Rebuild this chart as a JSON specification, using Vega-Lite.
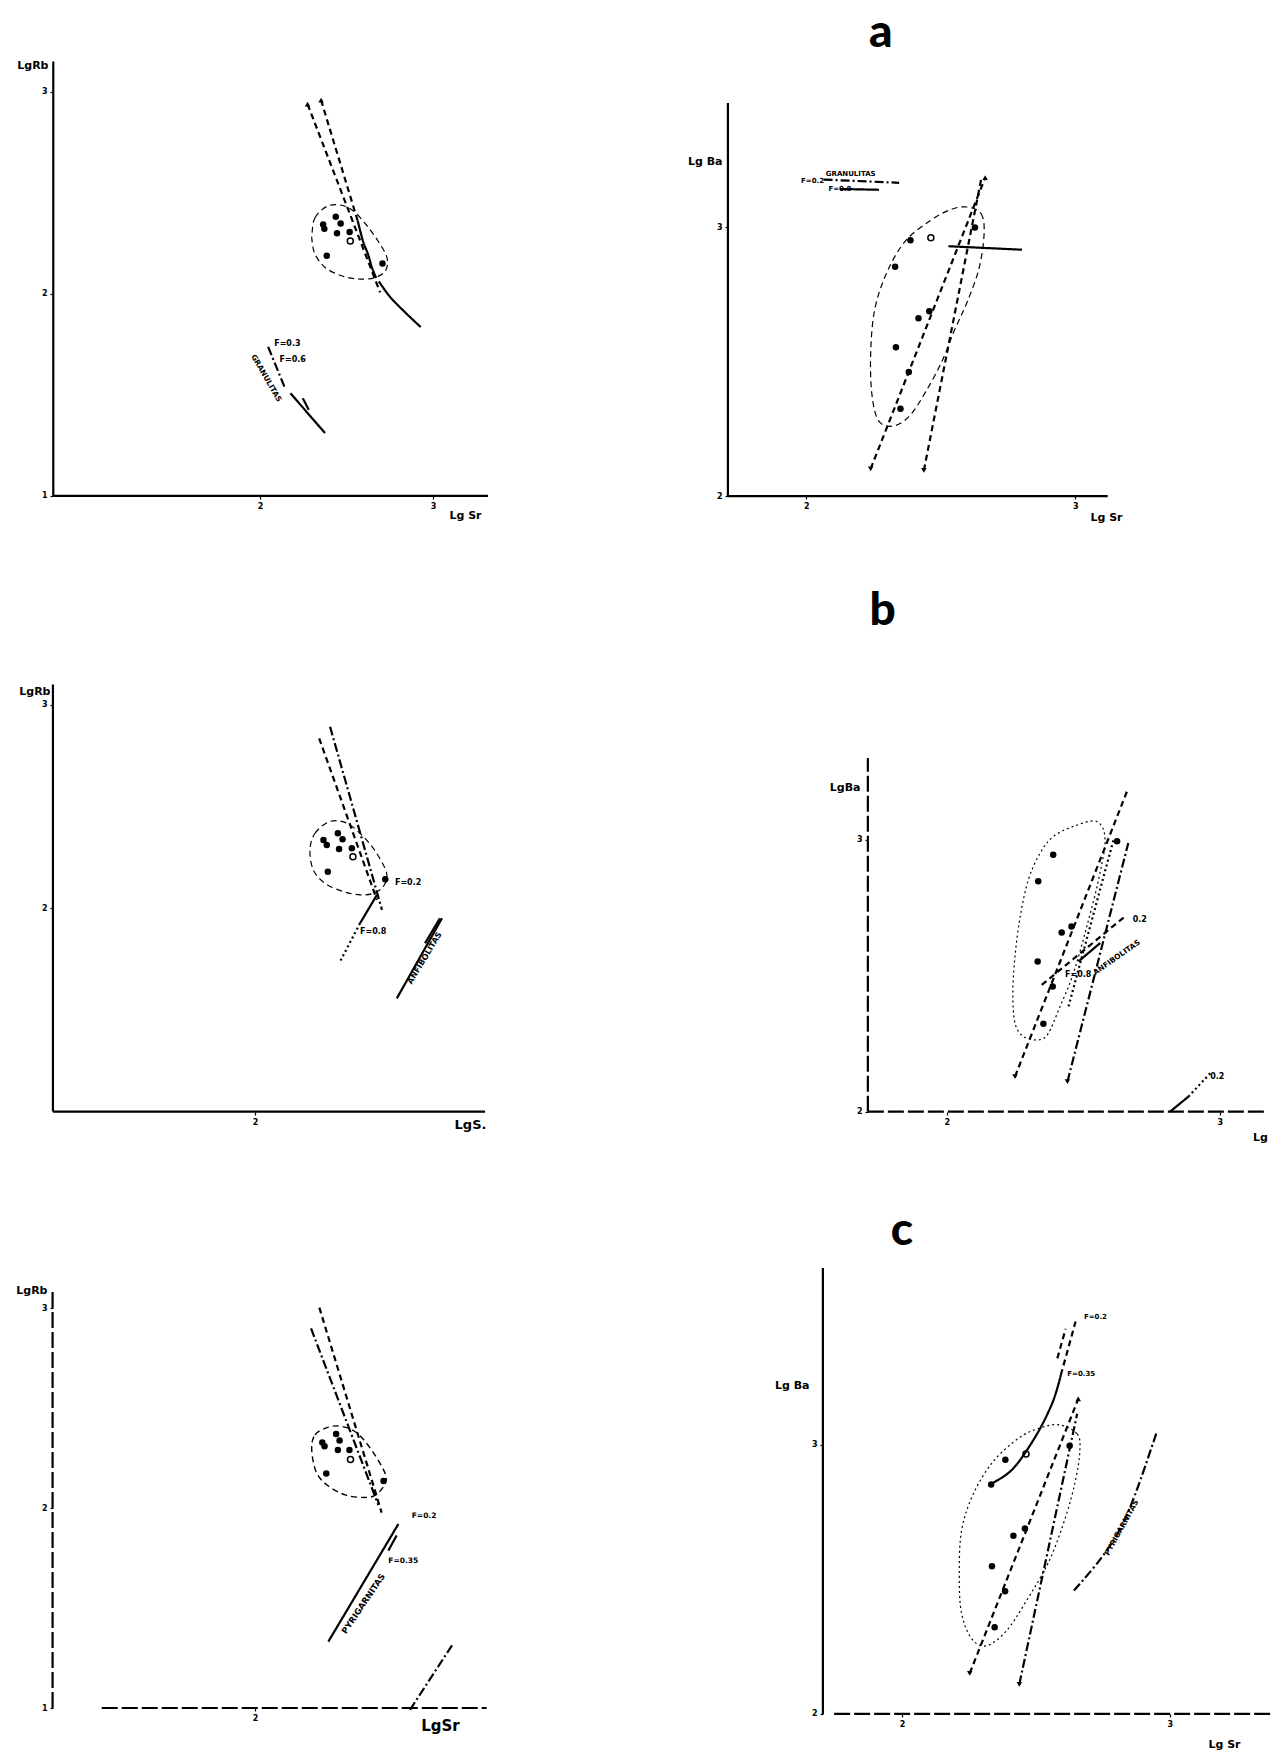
{
  "$schema": "https://vega.github.io/schema/vega-lite/v6.json",
  "padding": 0,
  "background": "white",
  "columns": 2,
  "spacing": 0,
  "bounds": "flush",
  "datasets": {
    "pts": [
      {"p": 1, "x": 2.365, "y": 2.344, "f": "f"}, {"p": 1, "x": 2.372, "y": 2.322, "f": "f"}, {"p": 1, "x": 2.438, "y": 2.382, "f": "f"},
      {"p": 1, "x": 2.466, "y": 2.348, "f": "f"}, {"p": 1, "x": 2.445, "y": 2.300, "f": "f"}, {"p": 1, "x": 2.518, "y": 2.307, "f": "f"},
      {"p": 1, "x": 2.522, "y": 2.262, "f": "o"}, {"p": 1, "x": 2.386, "y": 2.189, "f": "f"}, {"p": 1, "x": 2.708, "y": 2.151, "f": "f"},
      {"p": 2, "x": 2.627, "y": 3.0, "f": "f"}, {"p": 2, "x": 2.463, "y": 2.962, "f": "o"}, {"p": 2, "x": 2.387, "y": 2.952, "f": "f"},
      {"p": 2, "x": 2.33, "y": 2.854, "f": "f"}, {"p": 2, "x": 2.457, "y": 2.688, "f": "f"}, {"p": 2, "x": 2.417, "y": 2.662, "f": "f"},
      {"p": 2, "x": 2.333, "y": 2.554, "f": "f"}, {"p": 2, "x": 2.381, "y": 2.462, "f": "f"}, {"p": 2, "x": 2.35, "y": 2.325, "f": "f"},
      {"p": 3, "x": 2.396, "y": 2.336, "f": "f"}, {"p": 3, "x": 2.415, "y": 2.311, "f": "f"}, {"p": 3, "x": 2.479, "y": 2.369, "f": "f"},
      {"p": 3, "x": 2.506, "y": 2.339, "f": "f"}, {"p": 3, "x": 2.486, "y": 2.292, "f": "f"}, {"p": 3, "x": 2.56, "y": 2.295, "f": "f"},
      {"p": 3, "x": 2.566, "y": 2.254, "f": "o"}, {"p": 3, "x": 2.421, "y": 2.18, "f": "f"}, {"p": 3, "x": 2.753, "y": 2.143, "f": "f"},
      {"p": 4, "x": 2.39, "y": 2.945, "f": "f"}, {"p": 4, "x": 2.335, "y": 2.847, "f": "f"}, {"p": 4, "x": 2.457, "y": 2.681, "f": "f"},
      {"p": 4, "x": 2.421, "y": 2.659, "f": "f"}, {"p": 4, "x": 2.333, "y": 2.552, "f": "f"}, {"p": 4, "x": 2.388, "y": 2.46, "f": "f"},
      {"p": 4, "x": 2.354, "y": 2.323, "f": "f"}, {"p": 4, "x": 2.624, "y": 2.994, "f": "f"},
      {"p": 5, "x": 2.389, "y": 2.328, "f": "f"}, {"p": 5, "x": 2.402, "y": 2.309, "f": "f"}, {"p": 5, "x": 2.469, "y": 2.37, "f": "f"},
      {"p": 5, "x": 2.489, "y": 2.338, "f": "f"}, {"p": 5, "x": 2.479, "y": 2.29, "f": "f"}, {"p": 5, "x": 2.546, "y": 2.29, "f": "f"},
      {"p": 5, "x": 2.552, "y": 2.243, "f": "o"}, {"p": 5, "x": 2.412, "y": 2.173, "f": "f"}, {"p": 5, "x": 2.743, "y": 2.135, "f": "f"},
      {"p": 6, "x": 2.626, "y": 2.997, "f": "f"}, {"p": 6, "x": 2.463, "y": 2.966, "f": "o"}, {"p": 6, "x": 2.386, "y": 2.945, "f": "f"},
      {"p": 6, "x": 2.333, "y": 2.853, "f": "f"}, {"p": 6, "x": 2.459, "y": 2.689, "f": "f"}, {"p": 6, "x": 2.416, "y": 2.662, "f": "f"},
      {"p": 6, "x": 2.336, "y": 2.549, "f": "f"}, {"p": 6, "x": 2.385, "y": 2.456, "f": "f"}, {"p": 6, "x": 2.346, "y": 2.322, "f": "f"}
    ],
    "lns": [
      {"p": 1, "id": "1y", "o": 1, "x": 0.805, "y": 1, "s": "axis"}, {"p": 1, "id": "1y", "o": 2, "x": 0.805, "y": 3.15, "s": "axis"},
      {"p": 1, "id": "1x", "o": 1, "x": 0.805, "y": 1, "s": "axis"}, {"p": 1, "id": "1x", "o": 2, "x": 3.318, "y": 1, "s": "axis"},
      {"p": 1, "id": "1a", "o": 1, "x": 2.275, "y": 2.939, "s": "dashed"}, {"p": 1, "id": "1a", "o": 2, "x": 2.694, "y": 2.008, "s": "dashed"},
      {"p": 1, "id": "1b", "o": 1, "x": 2.353, "y": 2.959, "s": "dashed"}, {"p": 1, "id": "1b", "o": 2, "x": 2.565, "y": 2.361, "s": "dashed"},
      {"p": 1, "id": "1c", "o": 1, "x": 2.565, "y": 2.361, "s": "solid"}, {"p": 1, "id": "1c", "o": 2, "x": 2.595, "y": 2.262, "s": "solid"},
      {"p": 1, "id": "1c", "o": 3, "x": 2.624, "y": 2.197, "s": "solid"}, {"p": 1, "id": "1c", "o": 4, "x": 2.647, "y": 2.131, "s": "solid"},
      {"p": 1, "id": "1c", "o": 5, "x": 2.671, "y": 2.079, "s": "solid"},
      {"p": 1, "id": "1d", "o": 1, "x": 2.687, "y": 2.062, "s": "solid"}, {"p": 1, "id": "1d", "o": 2, "x": 2.753, "y": 1.984, "s": "solid"},
      {"p": 1, "id": "1d", "o": 3, "x": 2.847, "y": 1.902, "s": "solid"}, {"p": 1, "id": "1d", "o": 4, "x": 2.929, "y": 1.836, "s": "solid"},
      {"p": 1, "id": "1e", "o": 1, "x": 2.047, "y": 1.738, "s": "dashdot"}, {"p": 1, "id": "1e", "o": 2, "x": 2.141, "y": 1.541, "s": "dashdot"},
      {"p": 1, "id": "1f", "o": 1, "x": 2.176, "y": 1.508, "s": "solid"}, {"p": 1, "id": "1f", "o": 2, "x": 2.376, "y": 1.311, "s": "solid"},
      {"p": 1, "id": "1g", "o": 1, "x": 2.247, "y": 1.484, "s": "solid"}, {"p": 1, "id": "1g", "o": 2, "x": 2.282, "y": 1.426, "s": "solid"},
      {"p": 2, "id": "2y", "o": 1, "x": 1.708, "y": 2, "s": "axis"}, {"p": 2, "id": "2y", "o": 2, "x": 1.708, "y": 3.463, "s": "axis"},
      {"p": 2, "id": "2x", "o": 1, "x": 1.708, "y": 2, "s": "axis"}, {"p": 2, "id": "2x", "o": 2, "x": 3.121, "y": 2, "s": "axis"},
      {"p": 2, "id": "2a", "o": 1, "x": 2.239, "y": 2.102, "s": "dashed"}, {"p": 2, "id": "2a", "o": 2, "x": 2.665, "y": 3.185, "s": "dashed"},
      {"p": 2, "id": "2b", "o": 1, "x": 2.437, "y": 2.096, "s": "dashed"}, {"p": 2, "id": "2b", "o": 2, "x": 2.65, "y": 3.178, "s": "dashed"},
      {"p": 2, "id": "2c", "o": 1, "x": 2.528, "y": 2.93, "s": "bold"}, {"p": 2, "id": "2c", "o": 2, "x": 2.802, "y": 2.917, "s": "bold"},
      {"p": 2, "id": "2d", "o": 1, "x": 2.064, "y": 3.178, "s": "dashdot"}, {"p": 2, "id": "2d", "o": 2, "x": 2.345, "y": 3.166, "s": "dashdot"},
      {"p": 2, "id": "2e", "o": 1, "x": 2.125, "y": 3.143, "s": "solid"}, {"p": 2, "id": "2e", "o": 2, "x": 2.27, "y": 3.14, "s": "solid"},
      {"p": 3, "id": "3y", "o": 1, "x": 0.832, "y": 1, "s": "axis"}, {"p": 3, "id": "3y", "o": 2, "x": 0.832, "y": 3.1, "s": "axis"},
      {"p": 3, "id": "3x", "o": 1, "x": 0.832, "y": 1, "s": "axis"}, {"p": 3, "id": "3x", "o": 2, "x": 3.33, "y": 1, "s": "axis"},
      {"p": 3, "id": "3a", "o": 1, "x": 2.371, "y": 2.836, "s": "dashed"}, {"p": 3, "id": "3a", "o": 2, "x": 2.705, "y": 2.041, "s": "dashed"},
      {"p": 3, "id": "3b", "o": 1, "x": 2.434, "y": 2.893, "s": "dashdot"}, {"p": 3, "id": "3b", "o": 2, "x": 2.734, "y": 1.992, "s": "dashdot"},
      {"p": 3, "id": "3c", "o": 1, "x": 2.705, "y": 2.066, "s": "solid"}, {"p": 3, "id": "3c", "o": 2, "x": 2.607, "y": 1.926, "s": "solid"},
      {"p": 3, "id": "3d", "o": 1, "x": 2.607, "y": 1.926, "s": "dotted"}, {"p": 3, "id": "3d", "o": 2, "x": 2.491, "y": 1.737, "s": "dotted"},
      {"p": 3, "id": "3e", "o": 1, "x": 2.82, "y": 1.557, "s": "solid"}, {"p": 3, "id": "3e", "o": 2, "x": 3.081, "y": 1.951, "s": "solid"},
      {"p": 3, "id": "3f", "o": 1, "x": 2.983, "y": 1.828, "s": "solid"}, {"p": 3, "id": "3f", "o": 2, "x": 3.069, "y": 1.951, "s": "solid"},
      {"p": 4, "id": "4y", "o": 1, "x": 1.711, "y": 2, "s": "axisd"}, {"p": 4, "id": "4y", "o": 2, "x": 1.711, "y": 3.3, "s": "axisd"},
      {"p": 4, "id": "4x", "o": 1, "x": 1.711, "y": 2, "s": "axisd"}, {"p": 4, "id": "4x", "o": 2, "x": 3.166, "y": 2, "s": "axisd"},
      {"p": 4, "id": "4a", "o": 1, "x": 2.25, "y": 2.129, "s": "dashed"}, {"p": 4, "id": "4a", "o": 2, "x": 2.665, "y": 3.19, "s": "dashed"},
      {"p": 4, "id": "4b", "o": 1, "x": 2.442, "y": 2.11, "s": "dashdot"}, {"p": 4, "id": "4b", "o": 2, "x": 2.665, "y": 2.988, "s": "dashdot"},
      {"p": 4, "id": "4c", "o": 1, "x": 2.446, "y": 2.387, "s": "dotted"}, {"p": 4, "id": "4c", "o": 2, "x": 2.611, "y": 3.0, "s": "dotted"},
      {"p": 4, "id": "4d", "o": 1, "x": 2.348, "y": 2.466, "s": "dashed"}, {"p": 4, "id": "4d", "o": 2, "x": 2.653, "y": 2.718, "s": "dashed"},
      {"p": 4, "id": "4e", "o": 1, "x": 2.482, "y": 2.552, "s": "solid"}, {"p": 4, "id": "4e", "o": 2, "x": 2.562, "y": 2.62, "s": "solid"},
      {"p": 4, "id": "4f", "o": 1, "x": 2.818, "y": 2.0, "s": "solid"}, {"p": 4, "id": "4f", "o": 2, "x": 2.885, "y": 2.055, "s": "solid"},
      {"p": 4, "id": "4g", "o": 1, "x": 2.885, "y": 2.055, "s": "dotted"}, {"p": 4, "id": "4g", "o": 2, "x": 2.965, "y": 2.141, "s": "dotted"},
      {"p": 5, "id": "5y", "o": 1, "x": 0.83, "y": 1, "s": "axisd"}, {"p": 5, "id": "5y", "o": 2, "x": 0.83, "y": 3.087, "s": "axisd"},
      {"p": 5, "id": "5x", "o": 1, "x": 1.114, "y": 1, "s": "axisd"}, {"p": 5, "id": "5x", "o": 2, "x": 3.339, "y": 1, "s": "axisd"},
      {"p": 5, "id": "5a", "o": 1, "x": 2.324, "y": 2.898, "s": "dashdot"}, {"p": 5, "id": "5a", "o": 2, "x": 2.713, "y": 2.015, "s": "dashdot"},
      {"p": 5, "id": "5b", "o": 1, "x": 2.372, "y": 3.002, "s": "dashed"}, {"p": 5, "id": "5b", "o": 2, "x": 2.732, "y": 1.977, "s": "dashed"},
      {"p": 5, "id": "5c", "o": 1, "x": 2.424, "y": 1.332, "s": "solid"}, {"p": 5, "id": "5c", "o": 2, "x": 2.829, "y": 1.92, "s": "solid"},
      {"p": 5, "id": "5d", "o": 1, "x": 2.771, "y": 1.787, "s": "solid"}, {"p": 5, "id": "5d", "o": 2, "x": 2.819, "y": 1.863, "s": "solid"},
      {"p": 5, "id": "5e", "o": 1, "x": 2.896, "y": 0.991, "s": "dashdot"}, {"p": 5, "id": "5e", "o": 2, "x": 3.146, "y": 1.323, "s": "dashdot"},
      {"p": 6, "id": "6y", "o": 1, "x": 1.705, "y": 2, "s": "axis"}, {"p": 6, "id": "6y", "o": 2, "x": 1.705, "y": 3.658, "s": "axis"},
      {"p": 6, "id": "6x", "o": 1, "x": 1.747, "y": 2, "s": "axisd"}, {"p": 6, "id": "6x", "o": 2, "x": 3.377, "y": 2, "s": "axisd"},
      {"p": 6, "id": "6a", "o": 1, "x": 2.253, "y": 2.151, "s": "dashed"}, {"p": 6, "id": "6a", "o": 2, "x": 2.658, "y": 3.171, "s": "dashed"},
      {"p": 6, "id": "6b", "o": 1, "x": 2.438, "y": 2.11, "s": "dashdot"}, {"p": 6, "id": "6b", "o": 2, "x": 2.654, "y": 3.116, "s": "dashdot"},
      {"p": 6, "id": "6c", "o": 1, "x": 2.333, "y": 2.856, "s": "solid"}, {"p": 6, "id": "6c", "o": 2, "x": 2.414, "y": 2.911, "s": "solid"},
      {"p": 6, "id": "6c", "o": 3, "x": 2.5, "y": 3.034, "s": "solid"}, {"p": 6, "id": "6c", "o": 4, "x": 2.562, "y": 3.158, "s": "solid"},
      {"p": 6, "id": "6c", "o": 5, "x": 2.593, "y": 3.26, "s": "solid"},
      {"p": 6, "id": "6d", "o": 1, "x": 2.593, "y": 3.26, "s": "dashed"}, {"p": 6, "id": "6d", "o": 2, "x": 2.648, "y": 3.459, "s": "dashed"},
      {"p": 6, "id": "6e", "o": 1, "x": 2.58, "y": 3.322, "s": "dashed"}, {"p": 6, "id": "6e", "o": 2, "x": 2.611, "y": 3.432, "s": "dashed"},
      {"p": 6, "id": "6f", "o": 1, "x": 2.642, "y": 2.459, "s": "dashdot"}, {"p": 6, "id": "6f", "o": 2, "x": 2.735, "y": 2.568, "s": "dashdot"},
      {"p": 6, "id": "6f", "o": 3, "x": 2.809, "y": 2.678, "s": "dashdot"}, {"p": 6, "id": "6f", "o": 4, "x": 2.87, "y": 2.815, "s": "dashdot"},
      {"p": 6, "id": "6f", "o": 5, "x": 2.951, "y": 3.048, "s": "dashdot"}
    ],
    "ell": [
      {"p": 1, "o": 1, "x": 2.301, "y": 2.303, "s": "dashed"}, {"p": 1, "o": 2, "x": 2.318, "y": 2.377, "s": "dashed"},
      {"p": 1, "o": 3, "x": 2.388, "y": 2.434, "s": "dashed"}, {"p": 1, "o": 4, "x": 2.471, "y": 2.439, "s": "dashed"},
      {"p": 1, "o": 5, "x": 2.541, "y": 2.41, "s": "dashed"}, {"p": 1, "o": 6, "x": 2.612, "y": 2.344, "s": "dashed"},
      {"p": 1, "o": 7, "x": 2.682, "y": 2.262, "s": "dashed"}, {"p": 1, "o": 8, "x": 2.734, "y": 2.18, "s": "dashed"},
      {"p": 1, "o": 9, "x": 2.725, "y": 2.115, "s": "dashed"}, {"p": 1, "o": 10, "x": 2.659, "y": 2.079, "s": "dashed"},
      {"p": 1, "o": 11, "x": 2.565, "y": 2.074, "s": "dashed"}, {"p": 1, "o": 12, "x": 2.471, "y": 2.09, "s": "dashed"},
      {"p": 1, "o": 13, "x": 2.376, "y": 2.131, "s": "dashed"}, {"p": 1, "o": 14, "x": 2.318, "y": 2.197, "s": "dashed"},
      {"p": 1, "o": 15, "x": 2.301, "y": 2.262, "s": "dashed"},
      {"p": 2, "o": 1, "x": 2.597, "y": 3.076, "s": "dashed"}, {"p": 2, "o": 2, "x": 2.65, "y": 3.051, "s": "dashed"},
      {"p": 2, "o": 3, "x": 2.661, "y": 2.975, "s": "dashed"}, {"p": 2, "o": 4, "x": 2.642, "y": 2.847, "s": "dashed"},
      {"p": 2, "o": 5, "x": 2.597, "y": 2.72, "s": "dashed"}, {"p": 2, "o": 6, "x": 2.551, "y": 2.618, "s": "dashed"},
      {"p": 2, "o": 7, "x": 2.505, "y": 2.503, "s": "dashed"}, {"p": 2, "o": 8, "x": 2.444, "y": 2.389, "s": "dashed"},
      {"p": 2, "o": 9, "x": 2.384, "y": 2.299, "s": "dashed"}, {"p": 2, "o": 10, "x": 2.323, "y": 2.261, "s": "dashed"},
      {"p": 2, "o": 11, "x": 2.269, "y": 2.28, "s": "dashed"}, {"p": 2, "o": 12, "x": 2.244, "y": 2.376, "s": "dashed"},
      {"p": 2, "o": 13, "x": 2.239, "y": 2.529, "s": "dashed"}, {"p": 2, "o": 14, "x": 2.254, "y": 2.694, "s": "dashed"},
      {"p": 2, "o": 15, "x": 2.3, "y": 2.834, "s": "dashed"}, {"p": 2, "o": 16, "x": 2.368, "y": 2.949, "s": "dashed"},
      {"p": 2, "o": 17, "x": 2.46, "y": 3.025, "s": "dashed"}, {"p": 2, "o": 18, "x": 2.536, "y": 3.066, "s": "dashed"},
      {"p": 3, "o": 1, "x": 2.318, "y": 2.287, "s": "dashed"}, {"p": 3, "o": 2, "x": 2.347, "y": 2.369, "s": "dashed"},
      {"p": 3, "o": 3, "x": 2.434, "y": 2.427, "s": "dashed"}, {"p": 3, "o": 4, "x": 2.53, "y": 2.419, "s": "dashed"},
      {"p": 3, "o": 5, "x": 2.626, "y": 2.353, "s": "dashed"}, {"p": 3, "o": 6, "x": 2.703, "y": 2.271, "s": "dashed"},
      {"p": 3, "o": 7, "x": 2.761, "y": 2.172, "s": "dashed"}, {"p": 3, "o": 8, "x": 2.742, "y": 2.107, "s": "dashed"},
      {"p": 3, "o": 9, "x": 2.684, "y": 2.074, "s": "dashed"}, {"p": 3, "o": 10, "x": 2.607, "y": 2.066, "s": "dashed"},
      {"p": 3, "o": 11, "x": 2.511, "y": 2.082, "s": "dashed"}, {"p": 3, "o": 12, "x": 2.405, "y": 2.123, "s": "dashed"},
      {"p": 3, "o": 13, "x": 2.337, "y": 2.189, "s": "dashed"},
      {"p": 4, "o": 1, "x": 2.549, "y": 3.067, "s": "dotted"}, {"p": 4, "o": 2, "x": 2.464, "y": 3.049, "s": "dotted"},
      {"p": 4, "o": 3, "x": 2.391, "y": 3.012, "s": "dotted"}, {"p": 4, "o": 4, "x": 2.342, "y": 2.951, "s": "dotted"},
      {"p": 4, "o": 5, "x": 2.299, "y": 2.853, "s": "dotted"}, {"p": 4, "o": 6, "x": 2.269, "y": 2.718, "s": "dotted"},
      {"p": 4, "o": 7, "x": 2.25, "y": 2.571, "s": "dotted"}, {"p": 4, "o": 8, "x": 2.242, "y": 2.436, "s": "dotted"},
      {"p": 4, "o": 9, "x": 2.25, "y": 2.325, "s": "dotted"}, {"p": 4, "o": 10, "x": 2.281, "y": 2.276, "s": "dotted"},
      {"p": 4, "o": 11, "x": 2.336, "y": 2.264, "s": "dotted"}, {"p": 4, "o": 12, "x": 2.372, "y": 2.288, "s": "dotted"},
      {"p": 4, "o": 13, "x": 2.415, "y": 2.387, "s": "dotted"}, {"p": 4, "o": 14, "x": 2.464, "y": 2.509, "s": "dotted"},
      {"p": 4, "o": 15, "x": 2.513, "y": 2.681, "s": "dotted"}, {"p": 4, "o": 16, "x": 2.556, "y": 2.853, "s": "dotted"},
      {"p": 4, "o": 17, "x": 2.58, "y": 3.0, "s": "dotted"},
      {"p": 5, "o": 1, "x": 2.328, "y": 2.29, "s": "dashed"}, {"p": 5, "o": 2, "x": 2.347, "y": 2.366, "s": "dashed"},
      {"p": 5, "o": 3, "x": 2.424, "y": 2.404, "s": "dashed"}, {"p": 5, "o": 4, "x": 2.501, "y": 2.408, "s": "dashed"},
      {"p": 5, "o": 5, "x": 2.588, "y": 2.376, "s": "dashed"}, {"p": 5, "o": 6, "x": 2.674, "y": 2.29, "s": "dashed"},
      {"p": 5, "o": 7, "x": 2.751, "y": 2.176, "s": "dashed"}, {"p": 5, "o": 8, "x": 2.751, "y": 2.12, "s": "dashed"},
      {"p": 5, "o": 9, "x": 2.694, "y": 2.063, "s": "dashed"}, {"p": 5, "o": 10, "x": 2.617, "y": 2.053, "s": "dashed"},
      {"p": 5, "o": 11, "x": 2.52, "y": 2.066, "s": "dashed"}, {"p": 5, "o": 12, "x": 2.424, "y": 2.11, "s": "dashed"},
      {"p": 5, "o": 13, "x": 2.356, "y": 2.176, "s": "dashed"},
      {"p": 6, "o": 1, "x": 2.586, "y": 3.075, "s": "dotted"}, {"p": 6, "o": 2, "x": 2.654, "y": 3.041, "s": "dotted"},
      {"p": 6, "o": 3, "x": 2.664, "y": 2.979, "s": "dotted"}, {"p": 6, "o": 4, "x": 2.648, "y": 2.87, "s": "dotted"},
      {"p": 6, "o": 5, "x": 2.611, "y": 2.733, "s": "dotted"}, {"p": 6, "o": 6, "x": 2.549, "y": 2.568, "s": "dotted"},
      {"p": 6, "o": 7, "x": 2.463, "y": 2.418, "s": "dotted"}, {"p": 6, "o": 8, "x": 2.389, "y": 2.308, "s": "dotted"},
      {"p": 6, "o": 9, "x": 2.315, "y": 2.253, "s": "dotted"}, {"p": 6, "o": 10, "x": 2.259, "y": 2.281, "s": "dotted"},
      {"p": 6, "o": 11, "x": 2.222, "y": 2.377, "s": "dotted"}, {"p": 6, "o": 12, "x": 2.214, "y": 2.514, "s": "dotted"},
      {"p": 6, "o": 13, "x": 2.222, "y": 2.678, "s": "dotted"}, {"p": 6, "o": 14, "x": 2.265, "y": 2.815, "s": "dotted"},
      {"p": 6, "o": 15, "x": 2.34, "y": 2.938, "s": "dotted"}, {"p": 6, "o": 16, "x": 2.438, "y": 3.027, "s": "dotted"},
      {"p": 6, "o": 17, "x": 2.512, "y": 3.062, "s": "dotted"}
    ],
    "arw": [
      {"p": 1, "x": 2.275, "y": 2.939, "d": "up"}, {"p": 1, "x": 2.353, "y": 2.959, "d": "up"},
      {"p": 2, "x": 2.239, "y": 2.102, "d": "down"}, {"p": 2, "x": 2.437, "y": 2.096, "d": "down"}, {"p": 2, "x": 2.665, "y": 3.185, "d": "up"},
      {"p": 4, "x": 2.25, "y": 2.129, "d": "down"}, {"p": 4, "x": 2.442, "y": 2.11, "d": "down"},
      {"p": 6, "x": 2.253, "y": 2.151, "d": "down"}, {"p": 6, "x": 2.438, "y": 2.11, "d": "down"}, {"p": 6, "x": 2.658, "y": 3.171, "d": "up"}
    ],
    "txt": [
      {"p": 1, "t": "F=0.3", "x": 2.082, "y": 1.754, "k": "lab"}, {"p": 1, "t": "F=0.6", "x": 2.113, "y": 1.672, "k": "lab"},
      {"p": 1, "t": "GRANULITAS", "x": 2.035, "y": 1.582, "k": "rot"},
      {"p": 2, "t": "F=0.2", "x": 1.98, "y": 3.172, "k": "lab"}, {"p": 2, "t": "GRANULITAS", "x": 2.072, "y": 3.2, "k": "lab"},
      {"p": 2, "t": "F=0.8", "x": 2.082, "y": 3.143, "k": "lab"}, {"p": 2, "t": "a", "x": 2.277, "y": 3.672, "k": "big"},
      {"p": 3, "t": "F=0.2", "x": 2.809, "y": 2.123, "k": "lab"}, {"p": 3, "t": "F=0.8", "x": 2.607, "y": 1.885, "k": "lab"},
      {"p": 3, "t": "ANFIBOLITAS", "x": 2.983, "y": 1.754, "k": "rot"},
      {"p": 4, "t": "F=0.8", "x": 2.433, "y": 2.503, "k": "lab"}, {"p": 4, "t": "0.2", "x": 2.681, "y": 2.706, "k": "lab"},
      {"p": 4, "t": "ANFIBOLITAS", "x": 2.623, "y": 2.566, "k": "rot"}, {"p": 4, "t": "0.2", "x": 2.965, "y": 2.126, "k": "lab"},
      {"p": 4, "t": "b", "x": 1.765, "y": 3.79, "k": "big"},
      {"p": 5, "t": "F=0.2", "x": 2.906, "y": 1.958, "k": "lab"}, {"p": 5, "t": "F=0.35", "x": 2.771, "y": 1.736, "k": "lab"},
      {"p": 5, "t": "PYRIGARNITAS", "x": 2.626, "y": 1.522, "k": "rot"},
      {"p": 6, "t": "F=0.2", "x": 2.679, "y": 3.475, "k": "lab"}, {"p": 6, "t": "F=0.35", "x": 2.617, "y": 3.263, "k": "lab"},
      {"p": 6, "t": "PYRIGARNITAS", "x": 2.821, "y": 2.692, "k": "rot"}, {"p": 6, "t": "c", "x": 2.0, "y": 3.744, "k": "big"}
    ]
  },
  "concat": [
    {
      "width": 638, "height": 586,
      "encoding": {
        "x": {"field": "x", "type": "quantitative", "scale": {"domain": [0.497, 4.185], "nice": false, "zero": false},
              "axis": {"values": [2, 3], "offset": -90, "title": "Lg Sr", "titleX": 465, "titleY": 19, "titleAlign": "center", "titleBaseline": "middle"}},
        "y": {"field": "y", "type": "quantitative", "scale": {"domain": [0.554, 3.455], "nice": false, "zero": false},
              "axis": {"values": [1, 2, 3], "offset": -53, "title": "LgRb", "titleX": -5, "titleY": 68, "titleAlign": "right", "titleBaseline": "alphabetic"}}
      },
      "layer": [
        {"data": {"name": "lns"}, "transform": [{"filter": "datum.p == 1"}], "mark": {"type": "line", "interpolate": "cardinal", "color": "black"},
         "encoding": {"detail": {"field": "id", "type": "nominal"}, "order": {"field": "o", "type": "quantitative"},
           "strokeDash": {"field": "s", "type": "nominal", "legend": null, "scale": {"domain": ["axis", "axisd", "solid", "bold", "dashed", "dashdot", "dotted"], "range": [[1, 0], [16, 4], [1, 0], [1, 0], [6, 4], [9, 3, 2, 3], [2, 3]]}},
           "strokeWidth": {"field": "s", "type": "ordinal", "legend": null, "scale": {"domain": ["axis", "axisd", "solid", "bold", "dashed", "dashdot", "dotted"], "range": [2.2, 2.2, 1.3, 2.6, 1.3, 1.2, 1.2]}}}},
        {"data": {"name": "ell"}, "transform": [{"filter": "datum.p == 1"}], "mark": {"type": "line", "interpolate": "cardinal-closed", "color": "black", "strokeWidth": 1.2},
         "encoding": {"order": {"field": "o", "type": "quantitative"},
           "strokeDash": {"field": "s", "type": "nominal", "legend": null, "scale": {"domain": ["dashed", "dotted"], "range": [[5, 4], [3, 3]]}}}},
        {"data": {"name": "pts"}, "transform": [{"filter": "datum.p == 1 && datum.f == 'f'"}], "mark": {"type": "point", "shape": "circle", "filled": true, "size": 42, "color": "black", "opacity": 1}},
        {"data": {"name": "pts"}, "transform": [{"filter": "datum.p == 1 && datum.f == 'o'"}], "mark": {"type": "point", "shape": "circle", "filled": false, "size": 36, "strokeWidth": 1.5, "color": "black", "opacity": 1}},
        {"data": {"name": "arw"}, "transform": [{"filter": "datum.p == 1"}], "mark": {"type": "point", "filled": true, "size": 30, "color": "black", "opacity": 1},
         "encoding": {"shape": {"field": "d", "type": "nominal", "legend": null, "scale": {"domain": ["up", "down"], "range": ["triangle-up", "triangle-down"]}}}},
        {"data": {"name": "txt"}, "transform": [{"filter": "datum.p == 1 && datum.k == 'lab'"}], "mark": {"type": "text", "align": "left", "baseline": "middle", "fontSize": 8, "fontWeight": "bold", "color": "black"},
         "encoding": {"text": {"field": "t", "type": "nominal"}}},
        {"data": {"name": "txt"}, "transform": [{"filter": "datum.p == 1 && datum.k == 'rot'"}], "mark": {"type": "text", "align": "center", "baseline": "middle", "angle": 60, "fontSize": 7.5, "fontWeight": "bold", "color": "black"},
         "encoding": {"text": {"field": "t", "type": "nominal"}}}
      ]
    },
    {
      "width": 638, "height": 586,
      "encoding": {
        "x": {"field": "x", "type": "quantitative", "scale": {"domain": [1.3735, 3.747], "nice": false, "zero": false},
              "axis": {"values": [2, 3], "offset": -90, "title": "Lg Sr", "titleX": 468, "titleY": 21, "titleAlign": "center", "titleBaseline": "middle"}},
        "y": {"field": "y", "type": "quantitative", "scale": {"domain": [1.666, 3.846], "nice": false, "zero": false},
              "axis": {"values": [2, 3], "offset": -90, "title": "Lg Ba", "titleX": -6, "titleY": 161, "titleAlign": "right", "titleBaseline": "middle"}}
      },
      "layer": [
        {"data": {"name": "lns"}, "transform": [{"filter": "datum.p == 2"}], "mark": {"type": "line", "interpolate": "cardinal", "color": "black"},
         "encoding": {"detail": {"field": "id", "type": "nominal"}, "order": {"field": "o", "type": "quantitative"},
           "strokeDash": {"field": "s", "type": "nominal", "legend": null, "scale": {"domain": ["axis", "axisd", "solid", "bold", "dashed", "dashdot", "dotted"], "range": [[1, 0], [16, 4], [1, 0], [1, 0], [6, 4], [9, 3, 2, 3], [2, 3]]}},
           "strokeWidth": {"field": "s", "type": "ordinal", "legend": null, "scale": {"domain": ["axis", "axisd", "solid", "bold", "dashed", "dashdot", "dotted"], "range": [2.2, 2.2, 1.3, 2.6, 1.3, 1.2, 1.2]}}}},
        {"data": {"name": "ell"}, "transform": [{"filter": "datum.p == 2"}], "mark": {"type": "line", "interpolate": "cardinal-closed", "color": "black", "strokeWidth": 1.2},
         "encoding": {"order": {"field": "o", "type": "quantitative"},
           "strokeDash": {"field": "s", "type": "nominal", "legend": null, "scale": {"domain": ["dashed", "dotted"], "range": [[5, 4], [3, 3]]}}}},
        {"data": {"name": "pts"}, "transform": [{"filter": "datum.p == 2 && datum.f == 'f'"}], "mark": {"type": "point", "shape": "circle", "filled": true, "size": 42, "color": "black", "opacity": 1}},
        {"data": {"name": "pts"}, "transform": [{"filter": "datum.p == 2 && datum.f == 'o'"}], "mark": {"type": "point", "shape": "circle", "filled": false, "size": 36, "strokeWidth": 1.5, "color": "black", "opacity": 1}},
        {"data": {"name": "arw"}, "transform": [{"filter": "datum.p == 2"}], "mark": {"type": "point", "filled": true, "size": 30, "color": "black", "opacity": 1},
         "encoding": {"shape": {"field": "d", "type": "nominal", "legend": null, "scale": {"domain": ["up", "down"], "range": ["triangle-up", "triangle-down"]}}}},
        {"data": {"name": "txt"}, "transform": [{"filter": "datum.p == 2 && datum.k == 'lab'"}], "mark": {"type": "text", "align": "left", "baseline": "middle", "fontSize": 7, "fontWeight": "bold", "color": "black"},
         "encoding": {"text": {"field": "t", "type": "nominal"}}},
        {"data": {"name": "txt"}, "transform": [{"filter": "datum.p == 2 && datum.k == 'big'"}], "mark": {"type": "text", "align": "center", "baseline": "alphabetic", "fontSize": 46, "font": "Lato", "fontWeight": 900, "color": "black"},
         "encoding": {"text": {"field": "t", "type": "nominal"}}}
      ]
    },
    {
      "width": 638, "height": 586,
      "encoding": {
        "x": {"field": "x", "type": "quantitative", "scale": {"domain": [0.526, 4.214], "nice": false, "zero": false},
              "axis": {"values": [2], "offset": -60, "title": "LgS.", "titleX": 470, "titleY": 12, "titleAlign": "center", "titleBaseline": "middle", "titleFontSize": 13}},
        "y": {"field": "y", "type": "quantitative", "scale": {"domain": [0.703, 3.585], "nice": false, "zero": false},
              "axis": {"values": [2, 3], "offset": -53, "title": "LgRb", "titleX": -3, "titleY": 108, "titleAlign": "right", "titleBaseline": "alphabetic"}}
      },
      "layer": [
        {"data": {"name": "lns"}, "transform": [{"filter": "datum.p == 3"}], "mark": {"type": "line", "interpolate": "cardinal", "color": "black"},
         "encoding": {"detail": {"field": "id", "type": "nominal"}, "order": {"field": "o", "type": "quantitative"},
           "strokeDash": {"field": "s", "type": "nominal", "legend": null, "scale": {"domain": ["axis", "axisd", "solid", "bold", "dashed", "dashdot", "dotted"], "range": [[1, 0], [16, 4], [1, 0], [1, 0], [6, 4], [9, 3, 2, 3], [2, 3]]}},
           "strokeWidth": {"field": "s", "type": "ordinal", "legend": null, "scale": {"domain": ["axis", "axisd", "solid", "bold", "dashed", "dashdot", "dotted"], "range": [2.2, 2.2, 1.3, 2.6, 1.3, 1.2, 1.2]}}}},
        {"data": {"name": "ell"}, "transform": [{"filter": "datum.p == 3"}], "mark": {"type": "line", "interpolate": "cardinal-closed", "color": "black", "strokeWidth": 1.2},
         "encoding": {"order": {"field": "o", "type": "quantitative"},
           "strokeDash": {"field": "s", "type": "nominal", "legend": null, "scale": {"domain": ["dashed", "dotted"], "range": [[5, 4], [3, 3]]}}}},
        {"data": {"name": "pts"}, "transform": [{"filter": "datum.p == 3 && datum.f == 'f'"}], "mark": {"type": "point", "shape": "circle", "filled": true, "size": 42, "color": "black", "opacity": 1}},
        {"data": {"name": "pts"}, "transform": [{"filter": "datum.p == 3 && datum.f == 'o'"}], "mark": {"type": "point", "shape": "circle", "filled": false, "size": 36, "strokeWidth": 1.5, "color": "black", "opacity": 1}},
        {"data": {"name": "txt"}, "transform": [{"filter": "datum.p == 3 && datum.k == 'lab'"}], "mark": {"type": "text", "align": "left", "baseline": "middle", "fontSize": 8, "fontWeight": "bold", "color": "black"},
         "encoding": {"text": {"field": "t", "type": "nominal"}}},
        {"data": {"name": "txt"}, "transform": [{"filter": "datum.p == 3 && datum.k == 'rot'"}], "mark": {"type": "text", "align": "center", "baseline": "middle", "angle": -59, "fontSize": 8, "fontWeight": "bold", "color": "black"},
         "encoding": {"text": {"field": "t", "type": "nominal"}}}
      ]
    },
    {
      "width": 638, "height": 586,
      "encoding": {
        "x": {"field": "x", "type": "quantitative", "scale": {"domain": [0.869, 3.206], "nice": false, "zero": false},
              "axis": {"values": [2, 3], "offset": -60, "title": "Lg", "titleX": 622, "titleY": 25, "titleAlign": "center", "titleBaseline": "middle"}},
        "y": {"field": "y", "type": "quantitative", "scale": {"domain": [1.778, 3.933], "nice": false, "zero": false},
              "axis": {"values": [2, 3], "offset": -230, "title": "LgBa", "titleX": -8, "titleY": 201, "titleAlign": "right", "titleBaseline": "middle"}}
      },
      "layer": [
        {"data": {"name": "lns"}, "transform": [{"filter": "datum.p == 4"}], "mark": {"type": "line", "interpolate": "cardinal", "color": "black"},
         "encoding": {"detail": {"field": "id", "type": "nominal"}, "order": {"field": "o", "type": "quantitative"},
           "strokeDash": {"field": "s", "type": "nominal", "legend": null, "scale": {"domain": ["axis", "axisd", "solid", "bold", "dashed", "dashdot", "dotted"], "range": [[1, 0], [16, 4], [1, 0], [1, 0], [6, 4], [9, 3, 2, 3], [2, 3]]}},
           "strokeWidth": {"field": "s", "type": "ordinal", "legend": null, "scale": {"domain": ["axis", "axisd", "solid", "bold", "dashed", "dashdot", "dotted"], "range": [2.2, 2.2, 1.3, 2.6, 1.3, 1.2, 1.2]}}}},
        {"data": {"name": "ell"}, "transform": [{"filter": "datum.p == 4"}], "mark": {"type": "line", "interpolate": "cardinal-closed", "color": "black", "strokeWidth": 1.2},
         "encoding": {"order": {"field": "o", "type": "quantitative"},
           "strokeDash": {"field": "s", "type": "nominal", "legend": null, "scale": {"domain": ["dashed", "dotted"], "range": [[5, 4], [3, 3]]}}}},
        {"data": {"name": "pts"}, "transform": [{"filter": "datum.p == 4 && datum.f == 'f'"}], "mark": {"type": "point", "shape": "circle", "filled": true, "size": 42, "color": "black", "opacity": 1}},
        {"data": {"name": "arw"}, "transform": [{"filter": "datum.p == 4"}], "mark": {"type": "point", "filled": true, "size": 30, "color": "black", "opacity": 1},
         "encoding": {"shape": {"field": "d", "type": "nominal", "legend": null, "scale": {"domain": ["up", "down"], "range": ["triangle-up", "triangle-down"]}}}},
        {"data": {"name": "txt"}, "transform": [{"filter": "datum.p == 4 && datum.k == 'lab'"}], "mark": {"type": "text", "align": "left", "baseline": "middle", "fontSize": 8, "fontWeight": "bold", "color": "black"},
         "encoding": {"text": {"field": "t", "type": "nominal"}}},
        {"data": {"name": "txt"}, "transform": [{"filter": "datum.p == 4 && datum.k == 'rot'"}], "mark": {"type": "text", "align": "center", "baseline": "middle", "angle": -35, "fontSize": 7.5, "fontWeight": "bold", "color": "black"},
         "encoding": {"text": {"field": "t", "type": "nominal"}}},
        {"data": {"name": "txt"}, "transform": [{"filter": "datum.p == 4 && datum.k == 'big'"}], "mark": {"type": "text", "align": "center", "baseline": "alphabetic", "fontSize": 46, "font": "Lato", "fontWeight": 900, "color": "black"},
         "encoding": {"text": {"field": "t", "type": "nominal"}}}
      ]
    },
    {
      "width": 638, "height": 586,
      "encoding": {
        "x": {"field": "x", "type": "quantitative", "scale": {"domain": [0.526, 4.214], "nice": false, "zero": false},
              "axis": {"values": [2], "offset": -50, "title": "LgSr", "titleX": 440, "titleY": 17, "titleAlign": "center", "titleBaseline": "middle", "titleFontSize": 15}},
        "y": {"field": "y", "type": "quantitative", "scale": {"domain": [0.75, 3.68], "nice": false, "zero": false},
              "axis": {"values": [1, 2, 3], "offset": -53, "title": "LgRb", "titleX": -6, "titleY": 118, "titleAlign": "right", "titleBaseline": "middle"}}
      },
      "layer": [
        {"data": {"name": "lns"}, "transform": [{"filter": "datum.p == 5"}], "mark": {"type": "line", "interpolate": "cardinal", "color": "black"},
         "encoding": {"detail": {"field": "id", "type": "nominal"}, "order": {"field": "o", "type": "quantitative"},
           "strokeDash": {"field": "s", "type": "nominal", "legend": null, "scale": {"domain": ["axis", "axisd", "solid", "bold", "dashed", "dashdot", "dotted"], "range": [[1, 0], [16, 4], [1, 0], [1, 0], [6, 4], [9, 3, 2, 3], [2, 3]]}},
           "strokeWidth": {"field": "s", "type": "ordinal", "legend": null, "scale": {"domain": ["axis", "axisd", "solid", "bold", "dashed", "dashdot", "dotted"], "range": [2.2, 2.2, 1.3, 2.6, 1.3, 1.2, 1.2]}}}},
        {"data": {"name": "ell"}, "transform": [{"filter": "datum.p == 5"}], "mark": {"type": "line", "interpolate": "cardinal-closed", "color": "black", "strokeWidth": 1.4},
         "encoding": {"order": {"field": "o", "type": "quantitative"},
           "strokeDash": {"field": "s", "type": "nominal", "legend": null, "scale": {"domain": ["dashed", "dotted"], "range": [[5, 4], [3, 3]]}}}},
        {"data": {"name": "pts"}, "transform": [{"filter": "datum.p == 5 && datum.f == 'f'"}], "mark": {"type": "point", "shape": "circle", "filled": true, "size": 42, "color": "black", "opacity": 1}},
        {"data": {"name": "pts"}, "transform": [{"filter": "datum.p == 5 && datum.f == 'o'"}], "mark": {"type": "point", "shape": "circle", "filled": false, "size": 36, "strokeWidth": 1.5, "color": "black", "opacity": 1}},
        {"data": {"name": "txt"}, "transform": [{"filter": "datum.p == 5 && datum.k == 'lab'"}], "mark": {"type": "text", "align": "left", "baseline": "middle", "fontSize": 7.5, "fontWeight": "bold", "color": "black"},
         "encoding": {"text": {"field": "t", "type": "nominal"}}},
        {"data": {"name": "txt"}, "transform": [{"filter": "datum.p == 5 && datum.k == 'rot'"}], "mark": {"type": "text", "align": "center", "baseline": "middle", "angle": -56, "fontSize": 8.5, "fontWeight": "bold", "color": "black"},
         "encoding": {"text": {"field": "t", "type": "nominal"}}}
      ]
    },
    {
      "width": 638, "height": 586,
      "encoding": {
        "x": {"field": "x", "type": "quantitative", "scale": {"domain": [1.015, 3.396], "nice": false, "zero": false},
              "axis": {"values": [2, 3], "offset": -44, "title": "Lg Sr", "titleX": 586, "titleY": 30, "titleAlign": "center", "titleBaseline": "middle"}},
        "y": {"field": "y", "type": "quantitative", "scale": {"domain": [1.836, 4.015], "nice": false, "zero": false},
              "axis": {"values": [2, 3], "offset": -185, "title": "Lg Ba", "titleX": -14, "titleY": 213, "titleAlign": "right", "titleBaseline": "middle"}}
      },
      "layer": [
        {"data": {"name": "lns"}, "transform": [{"filter": "datum.p == 6"}], "mark": {"type": "line", "interpolate": "cardinal", "color": "black"},
         "encoding": {"detail": {"field": "id", "type": "nominal"}, "order": {"field": "o", "type": "quantitative"},
           "strokeDash": {"field": "s", "type": "nominal", "legend": null, "scale": {"domain": ["axis", "axisd", "solid", "bold", "dashed", "dashdot", "dotted"], "range": [[1, 0], [16, 4], [1, 0], [1, 0], [6, 4], [9, 3, 2, 3], [2, 3]]}},
           "strokeWidth": {"field": "s", "type": "ordinal", "legend": null, "scale": {"domain": ["axis", "axisd", "solid", "bold", "dashed", "dashdot", "dotted"], "range": [2.2, 2.2, 1.3, 2.6, 1.3, 1.2, 1.2]}}}},
        {"data": {"name": "ell"}, "transform": [{"filter": "datum.p == 6"}], "mark": {"type": "line", "interpolate": "cardinal-closed", "color": "black", "strokeWidth": 1.2},
         "encoding": {"order": {"field": "o", "type": "quantitative"},
           "strokeDash": {"field": "s", "type": "nominal", "legend": null, "scale": {"domain": ["dashed", "dotted"], "range": [[5, 4], [3, 3]]}}}},
        {"data": {"name": "pts"}, "transform": [{"filter": "datum.p == 6 && datum.f == 'f'"}], "mark": {"type": "point", "shape": "circle", "filled": true, "size": 42, "color": "black", "opacity": 1}},
        {"data": {"name": "pts"}, "transform": [{"filter": "datum.p == 6 && datum.f == 'o'"}], "mark": {"type": "point", "shape": "circle", "filled": false, "size": 36, "strokeWidth": 1.5, "color": "black", "opacity": 1}},
        {"data": {"name": "arw"}, "transform": [{"filter": "datum.p == 6"}], "mark": {"type": "point", "filled": true, "size": 30, "color": "black", "opacity": 1},
         "encoding": {"shape": {"field": "d", "type": "nominal", "legend": null, "scale": {"domain": ["up", "down"], "range": ["triangle-up", "triangle-down"]}}}},
        {"data": {"name": "txt"}, "transform": [{"filter": "datum.p == 6 && datum.k == 'lab'"}], "mark": {"type": "text", "align": "left", "baseline": "middle", "fontSize": 7, "fontWeight": "bold", "color": "black"},
         "encoding": {"text": {"field": "t", "type": "nominal"}}},
        {"data": {"name": "txt"}, "transform": [{"filter": "datum.p == 6 && datum.k == 'rot'"}], "mark": {"type": "text", "align": "center", "baseline": "middle", "angle": -61, "fontSize": 7.5, "fontWeight": "bold", "color": "black"},
         "encoding": {"text": {"field": "t", "type": "nominal"}}},
        {"data": {"name": "txt"}, "transform": [{"filter": "datum.p == 6 && datum.k == 'big'"}], "mark": {"type": "text", "align": "center", "baseline": "alphabetic", "fontSize": 46, "font": "Lato", "fontWeight": 900, "color": "black"},
         "encoding": {"text": {"field": "t", "type": "nominal"}}}
      ]
    }
  ],
  "config": {
    "view": {"stroke": null},
    "font": "DejaVu Sans",
    "axis": {"domain": false, "grid": false, "tickColor": "black", "tickSize": 3, "tickWidth": 1.2, "labelColor": "black", "labelFont": "DejaVu Sans", "labelFontSize": 8, "labelFontWeight": "bold", "labelPadding": 3, "titleColor": "black", "titleFont": "DejaVu Sans", "titleFontWeight": "bold", "titleFontSize": 11, "titleAngle": 0, "titlePadding": 0}
  }
}
